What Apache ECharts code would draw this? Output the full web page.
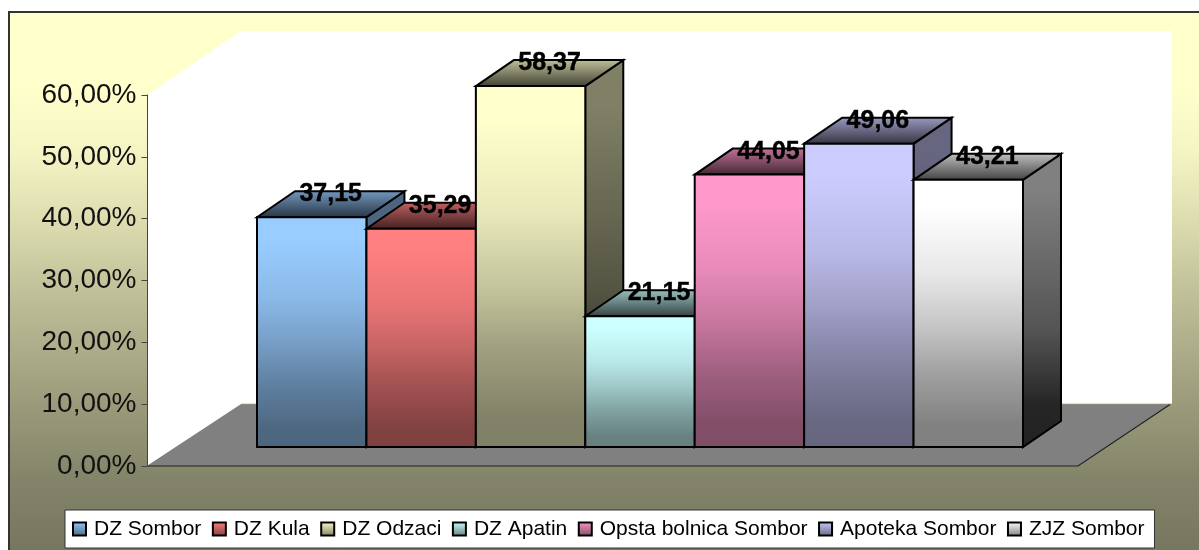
<!DOCTYPE html>
<html>
<head>
<meta charset="utf-8">
<style>html,body{margin:0;padding:0;background:#fff}#c{width:1199px;height:550px}</style>
<script src="https://cdn.jsdelivr.net/npm/echarts@6/dist/echarts.min.js"></script>
</head>
<body>
<div id="c"></div>
<script>
const seriesNames = ['DZ Sombor','DZ Kula','DZ Odzaci','DZ Apatin','Opsta bolnica Sombor','Apoteka Sombor','ZJZ Sombor'];
const seriesValues = [37.15,35.29,58.37,21.15,44.05,49.06,43.21];
const baseColors = [[153,204,255],[255,128,128],[255,255,204],[204,255,255],[255,153,204],[204,204,255],[255,255,255]];
const yTicks = {min:0,max:60,interval:10};

const FONT = '"Liberation Sans", Arial, sans-serif';
const DX = 38, DY = -26;
const shade = (c,k)=>`rgb(${c.map(v=>Math.round(v*k)).join(',')})`;
const ramp = (c,stops)=>new echarts.graphic.LinearGradient(0,0,0,1,stops.map(s=>({offset:s[0],color:shade(c,s[1])})));
const FRONT = [[0,1],[.1,1],[.35,.91],[.54,.78],[.72,.63],[.91,.51],[1,.5]];
const SIDE = [[0,.5],[.12,.5],[.6,.33],[.85,.15],[1,.13]];
const TOP = [[0,.76],[1,.25]];
const BACK = [[0,1],[.14,1],[.246,.96],[.389,.85],[.514,.74],[.693,.61],[.836,.515],[.96,.467],[1,.46]];

const chart = echarts.init(document.getElementById('c'),null,{renderer:'canvas'});

function bar(idx){
  const c = baseColors[idx];
  return function(params,api){
    const cat = api.value(0), val = api.value(1);
    const top = api.coord([cat,val]), base = api.coord([cat,0]);
    const w = api.size([1,0])[0];
    const l = top[0]-w/2, r = top[0]+w/2, t = top[1], b = base[1];
    const line = {stroke:'#000',lineWidth:2,lineJoin:'miter'};
    const z = 10+idx;
    return {type:'group',children:[
      {type:'polygon',z2:z,shape:{points:[[r,t],[r+DX,t+DY],[r+DX,b+DY],[r,b]]},
        style:Object.assign({fill:ramp(c,SIDE)},line)},
      {type:'polygon',z2:z,shape:{points:[[l,t],[l+DX,t+DY],[r+DX,t+DY],[r,t]]},
        style:Object.assign({fill:ramp(c,TOP)},line)},
      {type:'rect',z2:z,shape:{x:l,y:t,width:r-l,height:b-t},
        style:Object.assign({fill:ramp(c,FRONT)},line)},
      {type:'text',z2:100,x:top[0]+DX/2,y:t+DY+3,
        style:{text:val.toFixed(2).replace('.',','),font:'bold 25px '+FONT,fill:'#000',stroke:'#000',lineWidth:.4,align:'center',verticalAlign:'middle'}}
    ]};
  };
}

chart.setOption({
  animation:false,
  backgroundColor:'#fff',
  graphic:[
    {type:'rect',z:-5,shape:{x:9,y:12,width:1210,height:560},
      style:{fill:ramp([255,255,204],BACK),stroke:'#333',lineWidth:2}},
    {type:'polygon',z:-4,shape:{points:[[147,95],[241,31],[1172,31],[1172,404],[241,404],[147,466]]},style:{fill:'#fff'}},
    {type:'polygon',z:-3,shape:{points:[[147,466],[241,404.5],[1170,404.5],[1078,466]]},style:{fill:'#808080'}},
    {type:'polyline',z:-3,shape:{points:[[241,403.5],[1172,403.5]]},style:{fill:null,stroke:'#ddd',lineWidth:1}},
    {type:'polyline',z:-3,shape:{points:[[147,466],[1078,466],[1170,404.5]]},style:{fill:null,stroke:'#222',lineWidth:1.2}}
  ],
  legend:{
    data:seriesNames, left:65, top:510, orient:'horizontal',
    backgroundColor:'#fff', borderColor:'#333', borderWidth:1,
    padding:[8.5,10,8.5,7], itemWidth:13, itemHeight:13, itemGap:10.5,
    icon:'rect', textStyle:{fontFamily:FONT,fontSize:21,color:'#000',padding:[0,0,0,3]}
  },
  grid:[
    {left:147.5,top:95,width:931,height:371},
    {left:257,top:76,width:766,height:371}
  ],
  xAxis:[
    {type:'category',gridIndex:0,data:seriesNames,show:false},
    {type:'category',gridIndex:1,data:seriesNames,show:false}
  ],
  yAxis:[
    {type:'value',gridIndex:0,min:yTicks.min,max:yTicks.max,interval:yTicks.interval,z:5,
      axisLine:{show:true,lineStyle:{color:'#444',width:1}},
      axisTick:{show:true,length:6,lineStyle:{color:'#444',width:1}},
      splitLine:{show:false},
      axisLabel:{margin:11,fontFamily:FONT,fontSize:28,color:'#111',padding:[5,0,0,0],
        formatter:v=>v.toFixed(2).replace('.',',')+'%'}},
    {type:'value',gridIndex:1,min:yTicks.min,max:yTicks.max,interval:yTicks.interval,show:false,splitLine:{show:false}}
  ],
  series:seriesNames.map((name,i)=>({
    type:'custom',name,xAxisIndex:1,yAxisIndex:1,
    renderItem:bar(i),
    encode:{x:0,y:1},
    clip:false,
    data:[[i,seriesValues[i]]],
    itemStyle:{color:ramp(baseColors[i],[[0,1],[1,.5]]),borderColor:'#000',borderWidth:2}
  }))
});
</script>
</body>
</html>
